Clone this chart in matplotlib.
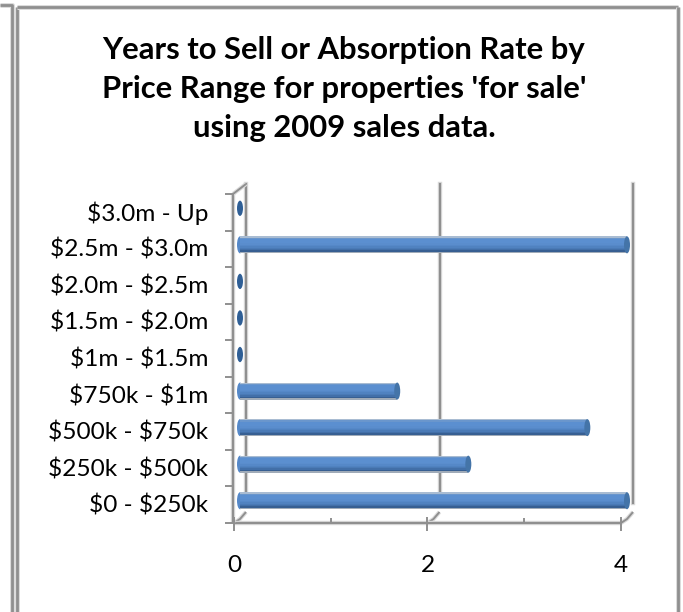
#!/usr/bin/env python3
"""Years to sell by price range, pseudo-3D horizontal cylinder bars."""
import matplotlib
matplotlib.use('Agg')
import matplotlib.pyplot as plt
from matplotlib.lines import Line2D
from matplotlib.patches import Ellipse
from matplotlib.transforms import Affine2D

plt.rcParams['font.family'] = ['Lato', 'DejaVu Sans']

price_ranges = ['$0 - $250k', '$250k - $500k', '$500k - $750k', '$750k - $1m',
                '$1m - $1.5m', '$1.5m - $2.0m', '$2.0m - $2.5m', '$2.5m - $3.0m',
                '$3.0m - Up']
years_to_sell = [4.0, 2.36, 3.59, 1.625, 0, 0, 0, 4.0, 0]
x_ticks = [0, 2, 4]
x_minor = [1, 3]
title_lines = ['Years to Sell or Absorption Rate by',
               "Price Range for properties 'for sale'",
               'using 2009 sales data.']

W, H = 683, 612
GRAY = '#8f8f8f'
HALO = '#dcdcdc'
# top to bottom of the cylinder
SHADES = ['#a9bcd2', '#6a96cc', '#5b8fd0', '#5b8fd0', '#5b8fd0', '#5a8dcd', '#5588c8',
          '#5082c0', '#4a7ab6', '#426fa8', '#375f92', '#a0abb8']


def hline(fig, xs, ys, color=GRAY, lw=1.6, halo=True):
    # pixel coords with y from top
    xf = [x / W for x in xs]
    yf = [1 - y / H for y in ys]
    if halo:
        fig.add_artist(Line2D(xf, yf, color=HALO, lw=lw + 1.6, solid_capstyle='butt'))
    fig.add_artist(Line2D(xf, yf, color=color, lw=lw, solid_capstyle='butt'))


fig = plt.figure(figsize=(W / 100, H / 100), dpi=100)
ax = fig.add_axes([234 / W, 1 - 523 / H, (621 - 234) / W, (523 - 194) / H])
ax.set_xlim(0, 4)
ax.set_ylim(0, 9)
ax.patch.set_alpha(0)
for sp in ax.spines.values():
    sp.set_visible(False)

# outer frames
hline(fig, [0, 11.5, 11.5], [5, 5, 612], lw=2)
hline(fig, [17, 17], [612, 7], lw=2)
hline(fig, [17, 678], [7, 7], lw=2)
hline(fig, [678, 678], [7, 612], lw=2)

# depth offset of the back wall, and of the bars half way in
back_tr = ax.transData + Affine2D().translate(12, 10)
bar_tr = ax.transData + Affine2D().translate(6, 4)

# back wall gridlines
for xv in x_ticks:
    ax.plot([xv, xv], [0.28, 9], color=HALO, lw=3.2, transform=back_tr, clip_on=False, zorder=1)
    ax.plot([xv, xv], [0.28, 9], color=GRAY, lw=1.6, transform=back_tr, clip_on=False, zorder=1.1)
    # floor diagonal from front axis to wall
    hline(fig, [234 + xv * 96.75, 240 + xv * 96.75, 246 + xv * 96.75],
          [523, 519, 512], lw=1.4)

# floor and left axis
hline(fig, [234, 621], [523, 523])
hline(fig, [233, 233], [194, 523])
hline(fig, [233, 246], [194, 184], lw=1.4)
for i in range(10):
    y_px = 523 - i * (523 - 194) / 9
    hline(fig, [225, 234], [y_px, y_px], lw=1.4, halo=False)
for xv in x_ticks:
    x_px = 234 + xv * 96.75
    hline(fig, [x_px, x_px], [517, 531], lw=1.4, halo=False)
for xv in x_minor:
    x_px = 234 + xv * 96.75
    hline(fig, [x_px, x_px], [518, 523], lw=1.4, halo=False)

# cylinder bars, stacked thin slices give the shading
bar_h = 17 / 36.55
slice_h = bar_h / len(SHADES)
cap_w = 6 / 96.75
for i, val in enumerate(years_to_sell):
    yc = i + 0.5
    if val > 0:
        for k, col in enumerate(SHADES):
            y_s = yc + bar_h / 2 - slice_h * (k + 0.5)
            ax.barh(y_s, val, height=slice_h * 1.05, left=0, color=col, lw=0,
                    transform=bar_tr, clip_on=False, zorder=3)
        ax.add_patch(Ellipse((0, yc), cap_w, bar_h, color='#5588c8', lw=0,
                             transform=bar_tr, clip_on=False, zorder=2.9))
        ax.add_patch(Ellipse((val, yc), cap_w, bar_h, color='#4474a8', lw=0,
                             transform=bar_tr, clip_on=False, zorder=3.2))
    else:
        ax.add_patch(Ellipse((0, yc), cap_w, bar_h * 0.9, color='#2f5f96', lw=0,
                             transform=bar_tr, clip_on=False, zorder=3.2))

ax.set_xticks([])
ax.set_yticks([])
for i, lab in enumerate(price_ranges):
    fig.text(208 / W, 1 - (523 - (i + 0.5) * 36.55 + 1) / H, lab, ha='right', va='center',
             fontsize=17.6, color='black', parse_math=False)
for xv in x_ticks:
    fig.text((234 + xv * 96.75) / W, 1 - 566 / H, str(xv), ha='center', va='center',
             fontsize=17.6, color='black')
for y_px, line in zip([50, 89, 128], title_lines):
    fig.text(344 / W, 1 - y_px / H, line, ha='center', va='center',
             fontsize=22.3, fontweight='bold', color='black', parse_math=False)

fig.savefig('out.png', dpi=100)
